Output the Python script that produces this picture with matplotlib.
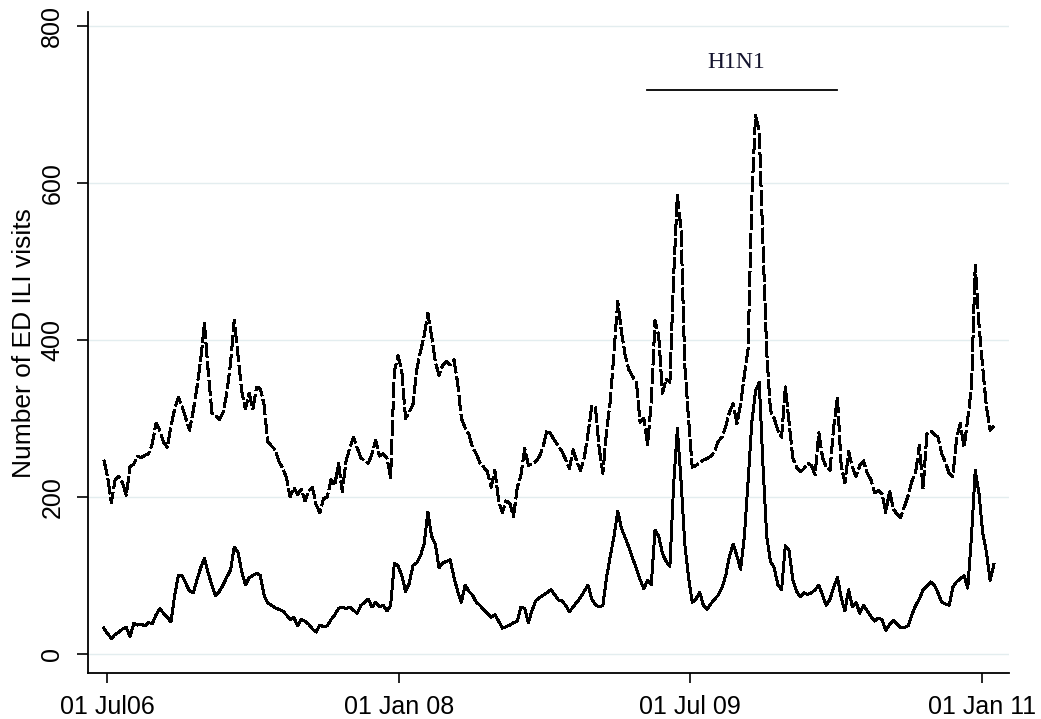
import matplotlib
matplotlib.use('Agg')
import matplotlib.pyplot as plt
import pandas as pd

plt.rcParams['font.family'] = ['Liberation Sans', 'DejaVu Sans']

# weekly counts, first week starting 25 Jun 2006
start_date = '2006-06-25'

ed_ili_visits = [
    247, 225, 193, 222, 226, 218, 202, 238, 242, 252,
    250, 253, 255, 268, 294, 285, 270, 263, 290, 312,
    327, 315, 300, 285, 310, 340, 375, 421, 360, 307,
    304, 298, 308, 332, 370, 425, 380, 335, 312, 332,
    312, 340, 338, 318, 270, 265, 260, 245, 237, 225,
    200, 212, 203, 210, 195, 208, 212, 190, 180, 198,
    200, 222, 215, 243, 207, 245, 262, 276, 263, 250,
    246, 243, 255, 272, 252, 255, 250, 225, 360, 380,
    360, 300, 308, 318, 362, 385, 405, 434, 405, 372,
    355, 368, 373, 368, 375, 345, 300, 288, 280, 263,
    255, 243, 238, 232, 212, 234, 195, 180, 195, 192,
    175, 212, 228, 262, 240, 242, 245, 252, 265, 285,
    280, 272, 265, 258, 248, 236, 260, 245, 234, 250,
    280, 315, 315, 262, 230, 285, 322, 385, 449, 410,
    380, 362, 353, 346, 295, 300, 267, 320, 425, 405,
    332, 350, 346, 480, 584, 540, 368, 300, 238, 240,
    244, 247, 249, 252, 258, 271, 276, 290, 308, 319,
    293, 318, 355, 389, 580, 686, 665, 520, 385, 310,
    300, 285, 276, 340, 295, 250, 238, 232, 236, 243,
    240, 228, 282, 250, 238, 234, 290, 327, 240, 218,
    258, 238, 226, 240, 246, 230, 222, 205, 208, 204,
    180, 208, 185, 178, 174, 188, 202, 220, 232, 266,
    210, 280, 284, 280, 276, 255, 244, 230, 226, 275,
    294, 263, 300, 340, 495, 420, 365, 315, 285, 290,
]

ili_lower = [
    33, 26, 20, 25, 28, 32, 34, 22, 39, 37,
    38, 36, 40, 39, 50, 58, 52, 47, 41, 75,
    100, 100, 90, 80, 78, 95, 110, 122, 103, 88,
    74, 80, 88, 98, 107, 136, 130, 105, 88, 97,
    100, 103, 100, 75, 65, 62, 59, 57, 55, 50,
    44, 47, 36, 44, 42, 38, 32, 28, 37, 35,
    36, 44, 50, 58, 60, 58, 60, 56, 52, 62,
    66, 70, 60, 66, 60, 62, 55, 62, 116, 112,
    100, 80, 90, 113, 116, 125, 140, 181, 150, 140,
    110, 116, 118, 120, 98, 80, 66, 88, 80, 75,
    66, 62, 56, 52, 47, 50, 42, 33, 35, 37,
    40, 42, 60, 58, 40, 56, 68, 72, 75, 78,
    82, 76, 69, 68, 62, 54, 60, 66, 72, 80,
    88, 70, 63, 60, 62, 98, 125, 150, 182, 160,
    148, 136, 122, 109, 95, 83, 94, 88, 158, 150,
    128, 118, 112, 215, 287, 220, 140, 98, 66, 70,
    79, 62, 57, 64, 70, 75, 85, 100, 125, 140,
    125, 108, 150, 220, 295, 335, 346, 240, 150, 118,
    110, 88, 82, 138, 132, 95, 80, 73, 78, 76,
    78, 82, 88, 75, 62, 70, 85, 98, 72, 55,
    82, 60, 66, 52, 62, 55, 48, 42, 46, 44,
    30, 38, 43, 38, 34, 34, 36, 50, 62, 70,
    82, 86, 92, 88, 78, 66, 64, 62, 85, 92,
    96, 100, 84, 150, 234, 205, 155, 130, 94, 114,
]

tick_dates = ['2006-07-01', '2008-01-01', '2009-07-01', '2011-01-01']
tick_labels = ['01 Jul06', '01 Jan 08', '01 Jul 09', '01 Jan 11']
y_ticks = [0, 200, 400, 600, 800]

h1n1_start, h1n1_end, h1n1_level = '2009-04-11', '2010-04-03', 718

dates = pd.date_range(start_date, periods=len(ed_ili_visits), freq='7D')

fig = plt.figure(figsize=(10.41, 7.19), dpi=100)
ax = fig.add_axes([0.0845, 0.064, 0.8845, 0.919])

for y in y_ticks:
    ax.axhline(y, color='#e3edef', lw=1.0, zorder=0)

ax.plot(dates, ed_ili_visits, color='black', lw=1.4,
        linestyle=(0, (8, 1.8)), antialiased=False)
ax.plot(dates, ili_lower, color='black', lw=1.4, antialiased=False)

# H1N1 period marker
ax.plot([pd.Timestamp(h1n1_start), pd.Timestamp(h1n1_end)], [h1n1_level, h1n1_level],
        color='black', lw=1.3)
mid = pd.Timestamp(h1n1_start) + (pd.Timestamp(h1n1_end) - pd.Timestamp(h1n1_start)) / 2
ax.text(mid - pd.Timedelta(days=10), h1n1_level + 22, 'H1N1', family='Liberation Serif',
        fontsize=17, color='#14142e', ha='center', va='bottom')

ax.set_xlim(pd.Timestamp('2006-05-26'), pd.Timestamp('2011-02-20'))
ax.set_ylim(-24, 817)

ax.set_xticks(pd.to_datetime(tick_dates))
ax.set_xticklabels(tick_labels)
ax.set_yticks(y_ticks)
ax.set_yticklabels([str(v) for v in y_ticks], rotation=90, va='center')

ax.tick_params(axis='both', labelsize=18, width=1.2, color='black', direction='out')
ax.tick_params(axis='y', length=8, pad=9)
ax.tick_params(axis='x', length=7, pad=9)

ax.set_ylabel('Number of ED ILI visits', fontsize=19, labelpad=3)

for side in ['top', 'right']:
    ax.spines[side].set_visible(False)
for side in ['left', 'bottom']:
    ax.spines[side].set_linewidth(1.3)

fig.savefig('out.png', dpi=100, facecolor='white')
